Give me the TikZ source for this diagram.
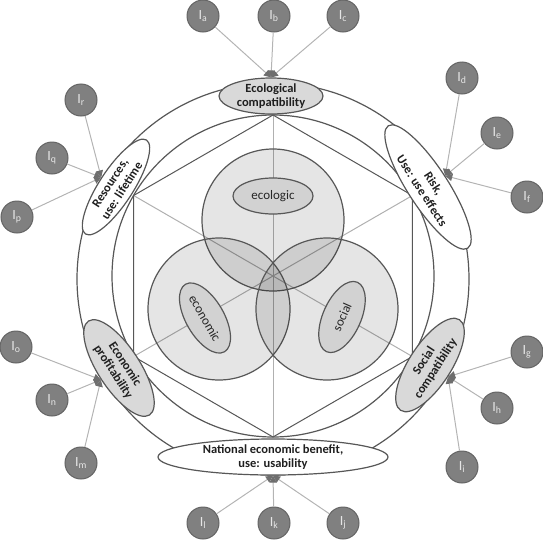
\documentclass[tikz,border=0pt]{standalone}
\usepackage{fontspec}
\setmainfont{Carlito}
\usetikzlibrary{shapes.geometric,arrows.meta}
\definecolor{lineC}{HTML}{575757}
\definecolor{spokeC}{HTML}{B0B0B0}
\definecolor{labFill}{HTML}{D9D9D9}
\definecolor{inFill}{HTML}{D2D2D2}
\definecolor{pinF}{HTML}{808080}
\definecolor{pinB}{HTML}{646464}
\definecolor{pinT}{HTML}{E6E6E6}
\definecolor{pinL}{HTML}{B4B4B4}
\definecolor{tipC}{HTML}{6E6E6E}
\begin{document}
\begin{tikzpicture}[x=1pt,y=-1pt,
  ring/.style={draw=lineC, line width=1.2pt},
  hexside/.style={draw=lineC, line width=1pt},
  spoke/.style={draw=spokeC, line width=1pt},
  venn/.style={circle, draw=lineC, line width=1.2pt, fill=black, fill opacity=0.1, text opacity=1, minimum size=142pt, inner sep=0pt},
  inell/.style={ellipse, draw=lineC, line width=1.2pt, fill=inFill, minimum width=80pt, minimum height=36pt, inner sep=0pt, font=\fontsize{13}{15}\selectfont, text=black!85},
  labell/.style={ellipse, draw=lineC, line width=1.2pt, inner sep=0pt},
  labtext/.style={font=\fontsize{12.5}{14}\selectfont\bfseries, align=center, text=black!88, inner sep=0pt},
  pin/.style={circle, draw=pinB, fill=pinF, line width=1pt, minimum size=32pt, inner sep=0pt, text=pinT, font=\fontsize{14}{16}\selectfont},
  pinline/.style={draw=pinL, line width=1pt, -{Triangle[length=7pt,width=7pt,color=tipC]}}
]
\useasboundingbox (0,0) rectangle (543,541);
% hexagon vertices
\coordinate (O) at (273,276);
\coordinate (vt) at (273,115);
\coordinate (vur) at (412.4,195.5);
\coordinate (vlr) at (412.4,356.5);
\coordinate (vb) at (273,437);
\coordinate (vll) at (133.6,356.5);
\coordinate (vul) at (133.6,195.5);
\coordinate (OC) at (273,279);
% rings
\draw[ring] (OC) circle[radius=196];
\draw[ring] (O) circle[radius=161];
% spokes
\draw[spoke] (vt) -- (vb);
\draw[spoke] (vul) -- (vlr);
\draw[spoke] (vll) -- (vur);
% hexagon
\draw[hexside] (vt) -- (vur) -- (vlr) -- (vb) -- (vll) -- (vul) -- cycle;
% Venn circles
\node[venn] (cEco) at (273,220) {};
\node[venn] (cEcon) at (219,309) {};
\node[venn] (cSoc) at (327,309) {};
\node[inell] (eEco) at (273,196) {ecologic};
\node[inell, rotate=-60, minimum width=78pt, minimum height=38pt] (eEcon) at (205,318) {economic};
\node[inell, rotate=66, minimum width=76pt, minimum height=38pt] (eSoc) at (342,317) {social};
% label ellipses
\node[labell, fill=labFill, minimum width=104pt, minimum height=36pt] (eco) at (271,96) {};
\node[labtext] (ecoT) at (eco) {Ecological\\compatibility};
\node[labell, fill=white, rotate=-57, minimum width=146pt, minimum height=40pt] (risk) at (428,187) {};
\node[labtext, rotate=-57] (riskT) at (risk) {Risk,\\Use: use effects};
\node[labell, fill=labFill, rotate=57, minimum width=108pt, minimum height=42pt] (soc) at (430,365) {};
\node[labtext, rotate=57] (socT) at (soc) {Social\\compatibility};
\node[labell, fill=white, minimum width=230pt, minimum height=36pt] (nat) at (273,457) {};
\node[labtext] (natT) at (nat) {National economic benefit,\\use: usability};
\node[labell, fill=labFill, rotate=-57, minimum width=112pt, minimum height=42pt] (econ) at (119,368) {};
\node[labtext, rotate=-57] (econT) at (econ) {Economic\\profitability};
\node[labell, fill=white, rotate=57, minimum width=112pt, minimum height=34pt] (res) at (116,187) {};
\node[labtext, rotate=57] (resT) at (res) {Resources,\\use: lifetime};
% pins
\node[pin] (Ia) at (203,16) {I\textsubscript{a}};
\node[pin] (Ib) at (274,16) {I\textsubscript{b}};
\node[pin] (Ic) at (343,16) {I\textsubscript{c}};
\node[pin] (Id) at (462,78) {I\textsubscript{d}};
\node[pin] (Ie) at (497,133) {I\textsubscript{e}};
\node[pin] (If) at (527,197) {I\textsubscript{f}};
\node[pin] (Ig) at (527,352) {I\textsubscript{g}};
\node[pin] (Ih) at (497,408) {I\textsubscript{h}};
\node[pin] (Ii) at (462,467) {I\textsubscript{i}};
\node[pin] (Ij) at (343,523) {I\textsubscript{j}};
\node[pin] (Ik) at (274,523) {I\textsubscript{k}};
\node[pin] (Il) at (203,523) {I\textsubscript{l}};
\node[pin] (Im) at (81,463) {I\textsubscript{m}};
\node[pin] (In) at (52,400) {I\textsubscript{n}};
\node[pin] (Io) at (16,347) {I\textsubscript{o}};
\node[pin] (Ip) at (17,217) {I\textsubscript{p}};
\node[pin] (Iq) at (52,158) {I\textsubscript{q}};
\node[pin] (Ir) at (81,100) {I\textsubscript{r}};
% connectors
\foreach \p in {Ia,Ib,Ic} \draw[pinline] (\p) -- (eco.north);
\foreach \p in {Id,Ie,If} \draw[pinline] (\p) -- (risk.north);
\foreach \p in {Ig,Ih,Ii} \draw[pinline] (\p) -- (soc.south);
\foreach \p in {Ij,Ik,Il} \draw[pinline] (\p) -- (nat.south);
\foreach \p in {Im,In,Io} \draw[pinline] (\p) -- (econ.south);
\foreach \p in {Ip,Iq,Ir} \draw[pinline] (\p) -- (res.north);
\end{tikzpicture}
\end{document}
